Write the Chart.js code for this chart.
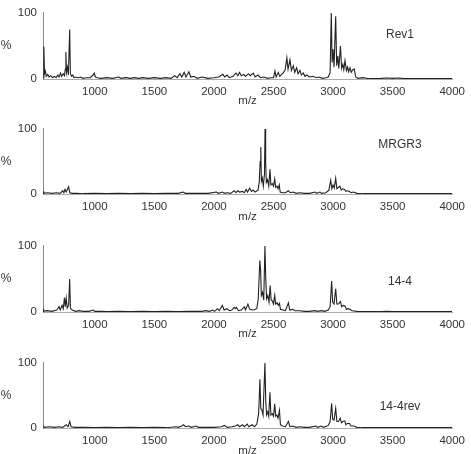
<!DOCTYPE html>
<html>
<head>
<meta charset="utf-8">
<script src="https://cdn.jsdelivr.net/npm/chart.js@4.4.1/dist/chart.umd.min.js"></script>
<style>
  html, body { margin: 0; padding: 0; background: #fff; overflow: hidden; }
  #wrap { position: relative; width: 471px; height: 454px; }
  #wrap canvas { position: absolute; left: 0; }
</style>
</head>
<body>
<div id="wrap"></div>
<script>
// tick labels
var xTicks = [1000, 1500, 2000, 2500, 3000, 3500, 4000];
var yTicks = [0, 100];
var sampleNames = ['Rev1', 'MRGR3', '14-4', '14-4rev'];

// spectra (m/z, % intensity)
var rev1Mz = [566, 572, 578, 585, 592, 605, 615, 630, 645, 660, 675, 690, 700, 712, 722, 735, 745, 752, 757, 762, 770, 778, 789, 795, 805, 815, 825, 840, 860, 880, 900, 930, 960, 985, 995, 1005, 1020, 1050, 1100, 1150, 1200, 1220, 1260, 1300, 1330, 1370, 1400, 1450, 1500, 1550, 1600, 1640, 1670, 1690, 1715, 1730, 1750, 1765, 1790, 1805, 1830, 1860, 1900, 1950, 2000, 2040, 2075, 2090, 2110, 2130, 2160, 2185, 2200, 2215, 2230, 2250, 2265, 2290, 2305, 2330, 2345, 2370, 2390, 2420, 2450, 2480, 2500, 2512, 2522, 2540, 2552, 2580, 2598, 2612, 2622, 2638, 2650, 2666, 2678, 2694, 2706, 2722, 2734, 2750, 2764, 2780, 2800, 2830, 2860, 2880, 2910, 2940, 2960, 2975, 2985, 2992, 3000, 3008, 3022, 3030, 3040, 3048, 3062, 3072, 3082, 3090, 3100, 3112, 3122, 3130, 3142, 3152, 3165, 3178, 3190, 3210, 3250, 3300, 3400, 3450, 3500, 3550, 3600, 4000];
var rev1Int = [2, 49, 8, 12, 4, 7, 3, 5, 2, 4, 2, 6, 3, 9, 4, 8, 5, 15, 41, 10, 18, 6, 75, 8, 4, 6, 2, 3, 2, 3, 1, 2, 2, 6, 9, 3, 2, 1, 2, 1, 3, 1, 2, 1, 2, 1, 2, 1, 2, 1, 2, 1, 5, 2, 8, 3, 10, 3, 11, 3, 4, 1, 3, 1, 2, 3, 7, 3, 6, 2, 4, 9, 5, 10, 5, 7, 4, 8, 5, 9, 3, 6, 2, 3, 1, 2, 2, 12, 3, 10, 4, 9, 14, 32, 15, 29, 13, 20, 10, 17, 8, 13, 6, 9, 4, 6, 3, 4, 2, 3, 1, 2, 3, 10, 100, 25, 45, 18, 95, 20, 35, 16, 50, 16, 22, 14, 28, 13, 18, 11, 17, 10, 14, 15, 3, 1, 2, 0.5, 1, 1.5, 1, 1.5, 0.5, 0.5];

var mrgr3Mz = [566, 572, 600, 640, 680, 710, 730, 740, 750, 760, 780, 790, 810, 850, 900, 1000, 1100, 1200, 1300, 1400, 1500, 1600, 1700, 1740, 1760, 1850, 1950, 2020, 2040, 2070, 2090, 2110, 2140, 2170, 2185, 2200, 2215, 2240, 2255, 2270, 2282, 2300, 2315, 2330, 2345, 2370, 2380, 2388, 2393, 2398, 2406, 2414, 2424, 2429, 2434, 2440, 2450, 2460, 2470, 2478, 2490, 2500, 2510, 2518, 2530, 2538, 2548, 2556, 2575, 2600, 2625, 2640, 2665, 2690, 2720, 2760, 2800, 2850, 2862, 2890, 2905, 2940, 2965, 2980, 2990, 3000, 3010, 3022, 3032, 3045, 3058, 3068, 3080, 3095, 3108, 3120, 3138, 3150, 3170, 3200, 3250, 4000];
var mrgr3Int = [4, 1, 2, 1, 2, 1, 5, 2, 7, 3, 11, 2, 1, 1, 0.5, 1, 0.5, 1, 0.5, 1, 0.5, 1, 1, 3, 1, 1, 1, 3, 1, 3, 1, 2, 1, 5, 2, 5, 3, 4, 2, 7, 3, 9, 4, 6, 3, 6, 18, 50, 72, 20, 25, 12, 30, 100, 50, 18, 22, 12, 38, 14, 16, 12, 23, 10, 12, 8, 14, 3, 2, 2, 5, 2, 3, 1, 2, 1, 1, 3, 1, 3, 1, 2, 6, 21, 8, 14, 9, 24, 8, 10, 12, 6, 8, 7, 4, 5, 4, 2, 3, 1, 0.5, 0.5];

var s144Mz = [566, 570, 600, 640, 680, 700, 710, 725, 735, 745, 752, 760, 768, 780, 789, 795, 810, 840, 870, 900, 950, 985, 1000, 1050, 1100, 1200, 1300, 1400, 1500, 1600, 1700, 1800, 1900, 1930, 1960, 1990, 2005, 2030, 2045, 2070, 2085, 2110, 2130, 2150, 2170, 2180, 2190, 2205, 2230, 2255, 2265, 2285, 2300, 2330, 2360, 2372, 2385, 2392, 2398, 2408, 2418, 2428, 2435, 2442, 2452, 2462, 2472, 2480, 2490, 2500, 2510, 2518, 2530, 2540, 2550, 2558, 2580, 2600, 2625, 2636, 2660, 2680, 2720, 2760, 2800, 2850, 2870, 2900, 2930, 2960, 2975, 2988, 2996, 3008, 3022, 3032, 3045, 3062, 3072, 3085, 3100, 3112, 3125, 3142, 3160, 3200, 3240, 3400, 3450, 3500, 4000];
var s144Int = [5, 1, 2, 1, 3, 8, 3, 10, 5, 22, 8, 21, 6, 10, 50, 6, 3, 1, 2, 1, 1, 3, 1, 1, 0.5, 1, 0.5, 1, 0.5, 1, 0.5, 1, 1, 2, 1, 3, 1, 5, 2, 10, 3, 5, 2, 3, 7, 5, 7, 2, 3, 8, 3, 12, 4, 3, 5, 20, 78, 62, 25, 30, 18, 100, 50, 20, 25, 15, 40, 18, 17, 12, 25, 12, 14, 10, 13, 4, 3, 2, 14, 3, 4, 2, 2, 1, 1, 2, 1, 2, 1, 3, 8, 47, 15, 12, 35, 12, 12, 16, 8, 10, 9, 4, 5, 4, 2, 1, 0.5, 0.5, 1, 0.5, 0.5];

var s144revMz = [566, 580, 620, 660, 700, 730, 760, 775, 790, 800, 830, 900, 1000, 1100, 1200, 1300, 1400, 1500, 1600, 1680, 1700, 1730, 1745, 1760, 1790, 1810, 1850, 1870, 1950, 2000, 2060, 2090, 2110, 2150, 2180, 2200, 2215, 2240, 2255, 2280, 2292, 2320, 2340, 2360, 2375, 2386, 2393, 2402, 2412, 2428, 2435, 2442, 2452, 2460, 2470, 2478, 2490, 2500, 2510, 2518, 2528, 2538, 2550, 2558, 2575, 2600, 2625, 2638, 2660, 2690, 2720, 2760, 2800, 2855, 2870, 2900, 2920, 2960, 2975, 2988, 2996, 3008, 3022, 3032, 3045, 3060, 3070, 3082, 3098, 3108, 3120, 3138, 3150, 3175, 3200, 3240, 4000];
var s144revInt = [3, 1, 2, 1, 2, 1, 5, 2, 10, 2, 1, 1, 0.5, 1, 0.5, 1, 0.5, 1, 0.5, 2, 1, 3, 5, 2, 3, 1, 3, 1, 1, 1, 2, 4, 1, 2, 3, 5, 2, 5, 2, 6, 2, 5, 2, 6, 22, 75, 30, 28, 20, 100, 40, 20, 25, 18, 55, 20, 22, 18, 37, 18, 20, 15, 27, 5, 3, 2, 10, 2, 3, 1, 2, 1, 1, 3, 1, 3, 1, 4, 10, 38, 14, 12, 30, 10, 10, 15, 8, 10, 11, 5, 7, 7, 3, 3, 1, 0.5, 0.5];

var spectraMz = [rev1Mz, mrgr3Mz, s144Mz, s144revMz];
var spectraInt = [rev1Int, mrgr3Int, s144Int, s144revInt];

// panel placement
var panelTop = [0, 116, 233, 350];
var plotHeight = [69, 68, 69, 68];
var nameOffset = [22, 16, 36, 44];

var textColor = '#333';
var fontFamily = '"Liberation Sans", Arial, Helvetica, sans-serif';

// draws the "%" axis caption and the sample name
var panelText = {
    id: 'panelText',
    afterDraw: function (chart) {
        var ctx = chart.ctx;
        var area = chart.chartArea;
        var o = chart.options.plugins.panelText;
        ctx.save();
        ctx.fillStyle = textColor;
        ctx.textAlign = 'center';
        ctx.textBaseline = 'middle';
        ctx.font = '12px ' + fontFamily;
        ctx.fillText('%', 6, area.top + area.height / 2);
        ctx.fillText(o.name, 400, area.top + o.nameY);
        ctx.restore();
    }
};

var plainLabel = function (value) { return String(value); };

var wrap = document.getElementById('wrap');
for (var i = 0; i < 4; i++) {
    var canvas = document.createElement('canvas');
    canvas.width = 471;
    canvas.height = 116;
    canvas.style.top = panelTop[i] + 'px';
    wrap.appendChild(canvas);

    var pts = spectraMz[i].map(function (mz, k) { return { x: mz, y: spectraInt[i][k] }; });
    var xHeight = 116 - 10 - plotHeight[i];

    new Chart(canvas.getContext('2d'), {
        type: 'line',
        data: {
            datasets: [{
                data: pts,
                borderColor: '#222',
                borderWidth: 1.1,
                pointRadius: 0,
                tension: 0,
                fill: false
            }]
        },
        options: {
            responsive: false,
            animation: false,
            events: [],
            layout: { padding: { top: 10, right: 16, left: 0, bottom: 0 } },
            plugins: {
                legend: { display: false },
                tooltip: { enabled: false },
                panelText: { name: sampleNames[i], nameY: nameOffset[i] }
            },
            scales: {
                x: {
                    type: 'linear',
                    min: 565,
                    max: 4000,
                    afterBuildTicks: function (s) { s.ticks = xTicks.map(function (v) { return { value: v }; }); },
                    afterFit: (function (h) { return function (s) { s.height = h; }; })(xHeight),
                    grid: { display: false, drawTicks: false },
                    border: { display: true, color: '#aaa', width: 1 },
                    ticks: { color: textColor, font: { size: 11.5, family: fontFamily }, padding: 6, maxRotation: 0, autoSkip: false, callback: plainLabel },
                    title: { display: true, text: 'm/z', color: textColor, font: { size: 11.5, family: fontFamily }, padding: { top: 0, bottom: 8 } }
                },
                y: {
                    min: 0,
                    max: 100,
                    afterBuildTicks: function (s) { s.ticks = yTicks.map(function (v) { return { value: v }; }); },
                    afterFit: function (s) { s.width = 43; },
                    grid: { display: false, drawTicks: false },
                    border: { display: true, color: '#888', width: 1 },
                    ticks: { color: textColor, font: { size: 11.5, family: fontFamily }, padding: 6, callback: plainLabel }
                }
            }
        },
        plugins: [panelText]
    });
}
</script>
</body>
</html>
